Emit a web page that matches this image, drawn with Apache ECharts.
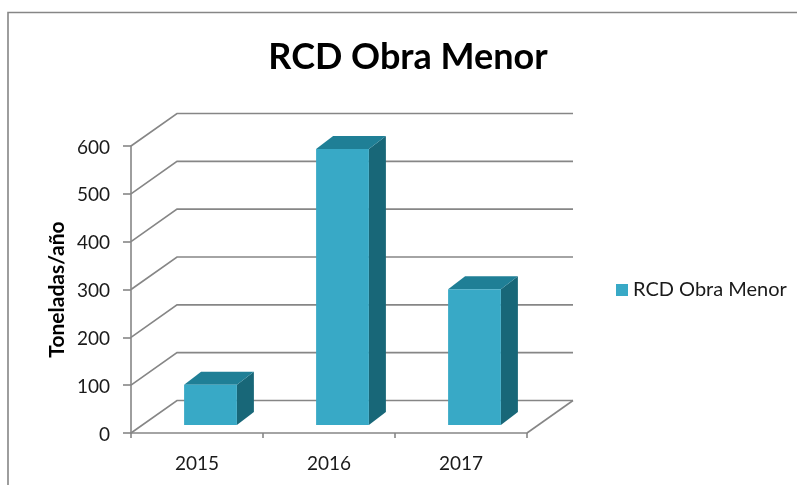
<!DOCTYPE html>
<html><head><meta charset="utf-8">
<script src="https://cdn.jsdelivr.net/npm/echarts@6/dist/echarts.min.js"></script>
<style>html,body{margin:0;padding:0;background:#fff}#c{width:797px;height:485px}</style>
</head><body><div id="c"></div>
<script>
var categories = ['2015','2016','2017'];
var values = [84,577,284];
var ticks = [0,100,200,300,400,500,600];
var seriesName = 'RCD Obra Menor';
var titleText = 'RCD Obra Menor';
var yName = 'Toneladas/año';

var FONT = 'Lato, "Open Sans", sans-serif';
var AXIS = '#868686';
var DX = 46, DY = -32.5;
var chart = echarts.init(document.getElementById('c'), null, {renderer:'canvas'});

function wall(params, api){
  var v = api.value(0);
  var p = api.coord([0, v]);
  var x0 = 131, w = 396;
  var y = p[1];
  var children = [{
    type:'polyline',
    shape:{points:[[x0,y],[x0+DX,y+DY],[x0+w+DX,y+DY]]},
    style:{stroke:AXIS,lineWidth:1.6,fill:null}, silent:true
  }];
  if(v===0){
    children.push({type:'polyline',
      shape:{points:[[x0+w,y],[x0+w+DX,y+DY]]},
      style:{stroke:AXIS,lineWidth:1.6,fill:null}, silent:true});
  }
  return {type:'group',children:children};
}
function bar(params, api){
  var c = api.coord([api.value(0), api.value(1)]);
  var z = api.coord([api.value(0), 0]);
  var band = api.size([1,0])[0];
  var w = band*0.4, ox = 13.5, oy = -8;
  var l = c[0]-w/2+ox, r = l+w, t = c[1]+oy, b = z[1]+oy;
  var dx = 17, dy = -13;
  return {type:'group',children:[
    {type:'polygon',shape:{points:[[r,t],[r+dx,t+dy],[r+dx,b+dy],[r,b]]},style:{fill:'#186778'}},
    {type:'polygon',shape:{points:[[l,t],[l+dx,t+dy],[r+dx,t+dy],[r,t]]},style:{fill:'#1F7F96'}},
    {type:'rect',shape:{x:l,y:t,width:w,height:b-t},style:{fill:'#38A9C6'}}
  ]};
}
chart.setOption({
  animation:false,
  backgroundColor:'#fff',
  title:{text:titleText,left:403,top:34,textAlign:'center',
    textStyle:{fontFamily:FONT,fontSize:36,fontWeight:'bold',color:'#000'}},
  legend:{data:[seriesName],left:611,top:275,icon:'rect',itemWidth:12,itemHeight:12,itemGap:5,
    textStyle:{fontFamily:FONT,fontSize:20,color:'#1a1a1a'}},
  grid:{left:131,top:146,width:396,height:287,containLabel:false},
  xAxis:{type:'category',data:categories,
    axisLine:{lineStyle:{color:AXIS,width:1.6}},
    axisTick:{show:true,length:5,lineStyle:{color:AXIS,width:1.6}},
    axisLabel:{fontFamily:FONT,fontSize:19,color:'#1a1a1a',margin:21}},
  yAxis:{type:'value',min:0,max:600,interval:100,
    name:yName,nameLocation:'middle',nameGap:63,nameRotate:90,
    nameTextStyle:{fontFamily:FONT,fontSize:21,fontWeight:'bold',color:'#000'},
    axisLine:{show:true,lineStyle:{color:AXIS,width:1.6}},
    axisTick:{show:true,length:8,lineStyle:{color:AXIS,width:1.6}},
    splitLine:{show:false},
    axisLabel:{fontFamily:FONT,fontSize:19,color:'#1a1a1a',margin:21,verticalAlign:'top',padding:[-8,0,0,0]}},
  graphic:[{type:'polyline',silent:true,
    shape:{points:[[8,485],[8,12.5],[797,12.5]]},
    style:{stroke:'#868686',lineWidth:1.6,fill:null}}],
  series:[
    {type:'custom',name:'wall',renderItem:wall,data:ticks.map(function(t){return [t];}),
      encode:{y:0},clip:false,silent:true,z:1},
    {type:'custom',name:seriesName,renderItem:bar,itemStyle:{color:'#38A9C6'},
      data:categories.map(function(c,i){return [i,values[i]];}),
      encode:{x:0,y:1},clip:false,z:3}
  ]
});
</script></body></html>
